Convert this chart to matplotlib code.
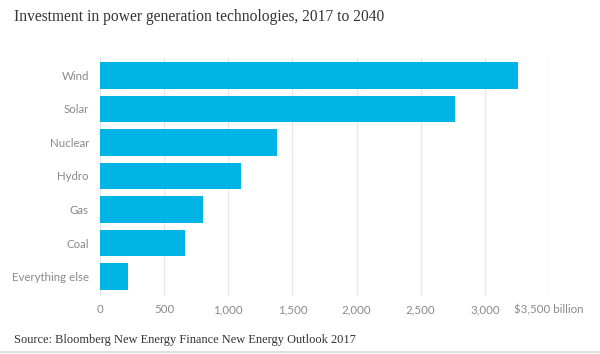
import matplotlib
matplotlib.use("Agg")
import matplotlib.pyplot as plt
from matplotlib.lines import Line2D

categories = ["Wind", "Solar", "Nuclear", "Hydro", "Gas", "Coal", "Everything else"]
values = [3260, 2770, 1380, 1100, 800, 660, 220]
xticks = [0, 500, 1000, 1500, 2000, 2500, 3000, 3500]
xticklabels = ["0", "500", "1,000", "1,500", "2,000", "2,500", "3,000", "$3,500 billion"]

bar_color = "#00b4e6"
label_color = "#8a8a8a"

fig = plt.figure(figsize=(6, 3.54), dpi=100)
ax = fig.add_axes([100 / 600, 1 - 296 / 354, 449 / 600, 239 / 354])

ypos = list(range(len(categories)))
ax.barh(ypos, values, height=0.8, color=bar_color, zorder=2)

ax.set_xlim(0, 3500)
ax.set_ylim(6.58, -0.55)
ax.set_yticks(ypos)
ax.set_yticklabels(categories, family="Lato", fontsize=8.3, color=label_color)
ax.set_xticks(xticks)
ax.set_xticklabels(xticklabels, family="Lato", fontsize=8.3, color=label_color)
ax.tick_params(axis="both", length=0)
ax.tick_params(axis="y", pad=8)
ax.tick_params(axis="x", pad=6)
ax.grid(axis="x", color="#e8e8e8", linewidth=1, zorder=0)
for s in ax.spines.values():
    s.set_visible(False)

fig.text(14 / 600, 1 - 17 / 354, "Investment in power generation technologies, 2017 to 2040",
         family="Liberation Serif", fontsize=11.2, color="#333333", va="center", ha="left")
fig.text(14 / 600, 1 - 340 / 354, "Source: Bloomberg New Energy Finance New Energy Outlook 2017",
         family="Liberation Serif", fontsize=8.9, color="#333333", va="center", ha="left")
fig.add_artist(Line2D([0, 1], [1 - 352 / 354] * 2, color="#e0e0e0", linewidth=1.5,
                      transform=fig.transFigure))

fig.savefig("out.png", dpi=100)
